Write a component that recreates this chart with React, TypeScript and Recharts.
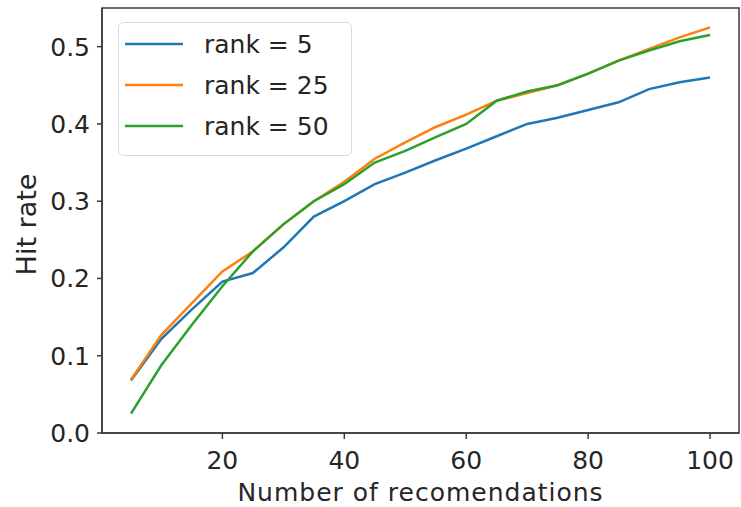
import React from 'react';
import { LineChart, Line, XAxis, YAxis, Legend, ReferenceArea, Label } from 'recharts';

const numRecs = [5, 10, 15, 20, 25, 30, 35, 40, 45, 50, 55, 60, 65, 70, 75, 80, 85, 90, 95, 100];
const rank5 = [0.068, 0.122, 0.16, 0.196, 0.207, 0.24, 0.28, 0.3, 0.322, 0.337, 0.353, 0.368, 0.384, 0.4, 0.408, 0.418, 0.428, 0.445, 0.454, 0.46];
const rank25 = [0.069, 0.127, 0.168, 0.209, 0.235, 0.27, 0.3, 0.325, 0.355, 0.376, 0.396, 0.412, 0.43, 0.44, 0.45, 0.465, 0.482, 0.497, 0.512, 0.525];
const rank50 = [0.025, 0.088, 0.14, 0.19, 0.235, 0.27, 0.3, 0.322, 0.35, 0.365, 0.383, 0.4, 0.43, 0.442, 0.45, 0.465, 0.482, 0.495, 0.507, 0.515];
const seriesNames = ['rank = 5', 'rank = 25', 'rank = 50'];
const seriesKeys = ['r5', 'r25', 'r50'];
const seriesColors = ['#1f77b4', '#ff7f0e', '#2ca02c'];
const xTicks = [20, 40, 60, 80, 100];
const yTicks = [0, 0.1, 0.2, 0.3, 0.4, 0.5];
const xLabel = 'Number of recomendations';
const yLabel = 'Hit rate';

const data = numRecs.map((x, i) => ({ x, r5: rank5[i], r25: rank25[i], r50: rank50[i] }));

const FONT = '"DejaVu Sans", sans-serif';
const TEXT = '#262626';
const AXIS = '#3a3a3a';

const renderLegend = () => (
  <svg width={235} height={135} style={{ display: 'block' }}>
    <rect x={0.5} y={0.5} width={233} height={133} rx={5} ry={5} fill="#ffffff" fillOpacity={0.8} stroke="#d9d9d9" strokeWidth={1} />
    {seriesNames.map((name, i) => (
      <g key={name}>
        <line x1={7} x2={65} y1={22 + i * 41} y2={22 + i * 41} stroke={seriesColors[i]} strokeWidth={2.5} />
        <text x={86} y={22 + i * 41} dominantBaseline="central" fontFamily={FONT} fontSize={25} fill={TEXT}>{name}</text>
      </g>
    ))}
  </svg>
);

export default function App() {
  return (
    <div style={{ position: 'absolute', left: 0, top: 0, width: 741, height: 507, background: '#fff' }}>
      <LineChart width={741} height={507} data={data} margin={{ top: 8, right: 2, left: 0, bottom: 0 }}>
        <XAxis
          dataKey="x"
          type="number"
          domain={[0.25, 104.75]}
          ticks={xTicks}
          allowDataOverflow
          height={74}
          stroke={AXIS}
          strokeWidth={1.5}
          tickSize={6}
          tickMargin={12}
          tick={{ fill: TEXT, fontSize: 25, fontFamily: FONT }}
        >
          <Label value={xLabel} position="center" dy={22} fill={TEXT} fontSize={25} letterSpacing={1} fontFamily={FONT} />
        </XAxis>
        <YAxis
          type="number"
          domain={[0, 0.55]}
          ticks={yTicks}
          allowDataOverflow
          width={102}
          stroke={AXIS}
          strokeWidth={1.5}
          tickSize={5}
          tickMargin={7}
          tickFormatter={(v: number) => v.toFixed(1)}
          tick={{ fill: TEXT, fontSize: 25, fontFamily: FONT }}
        >
          <Label value={yLabel} position="center" angle={-90} dx={-25} dy={4} fill={TEXT} fontSize={27} fontFamily={FONT} />
        </YAxis>
        <ReferenceArea x1={0.25} x2={104.75} y1={0} y2={0.55} fill="none" stroke={AXIS} strokeWidth={1.5} />
        {seriesKeys.map((k, i) => (
          <Line key={k} dataKey={k} name={seriesNames[i]} type="linear" stroke={seriesColors[i]} strokeWidth={2.5} dot={false} isAnimationActive={false} />
        ))}
        <Legend
          layout="vertical"
          align="center"
          verticalAlign="middle"
          content={renderLegend}
          wrapperStyle={{ left: 118, top: 22, width: 235, height: 135 }}
        />
      </LineChart>
    </div>
  );
}
